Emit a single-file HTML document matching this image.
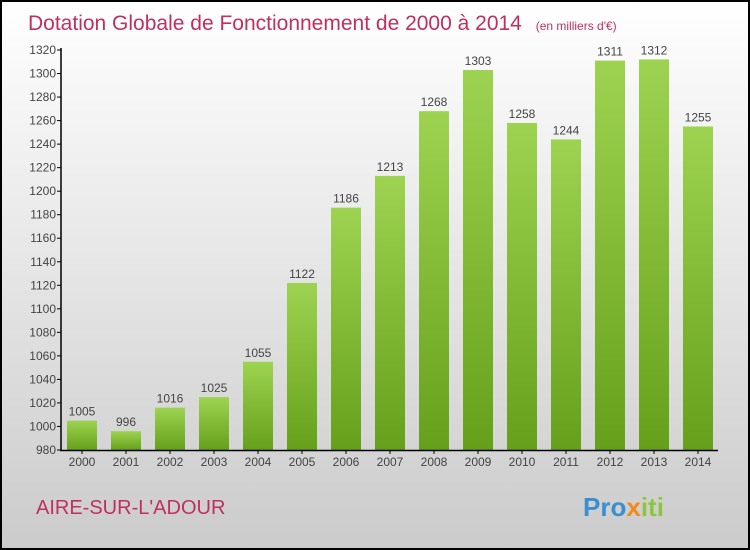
<!DOCTYPE html>
<html><head><meta charset="utf-8"><style>
body{margin:0}
svg{display:block;font-family:"Liberation Sans",sans-serif}
</style></head><body>
<svg id="c" width="750" height="550">
<defs>
<linearGradient id="bg" x1="0" y1="0" x2="0" y2="1"><stop offset="0" stop-color="#ffffff"/><stop offset="1" stop-color="#cbcbcb"/></linearGradient>
<linearGradient id="bar" x1="0" y1="0" x2="0" y2="1"><stop offset="0" stop-color="#9dd350"/><stop offset="1" stop-color="#66a01a"/></linearGradient>
</defs>
<rect x="1" y="1" width="748" height="548" fill="url(#bg)" stroke="#000" stroke-width="2"/>
<text x="28" y="30" font-size="21" fill="#c0305e">Dotation Globale de Fonctionnement de 2000 à 2014 <tspan font-size="12" dx="8">(en milliers d'€)</tspan></text>
<text x="36" y="514" font-size="20" fill="#c0305e">AIRE-SUR-L'ADOUR</text>
<text x="583" y="516" font-size="26" font-weight="bold" fill="#3a8fd0">Pro<tspan fill="#f08a1c">x</tspan><tspan fill="#8cc63f">iti</tspan></text>
<g id="g"></g>
</svg>
<script>
const years=["2000","2001","2002","2003","2004","2005","2006","2007","2008","2009","2010","2011","2012","2013","2014"];
const values=[1005,996,1016,1025,1055,1122,1186,1213,1268,1303,1258,1244,1311,1312,1255];
const yTicks=[980,1000,1020,1040,1060,1080,1100,1120,1140,1160,1180,1200,1220,1240,1260,1280,1300,1320];
const NS="http://www.w3.org/2000/svg",g=document.getElementById('g');
const y=v=>450-(v-980)*400/340, x=i=>82+i*44;
function mk(t,a,txt){const e=document.createElementNS(NS,t);for(const k in a)e.setAttribute(k,a[k]);if(txt!=null)e.textContent=txt;g.appendChild(e);return e;}
yTicks.forEach(v=>{
 const l=mk('line',{x1:57,x2:61,y1:y(v),y2:y(v),stroke:'#000'});
 
 
 const t=mk('text',{x:56,y:y(v)+4,'text-anchor':'end','font-size':12,fill:'#444'},v);
 
 
});
values.forEach((v,i)=>{
 const r=mk('rect',{x:x(i)-15,y:y(v),width:30,height:450-y(v),fill:'url(#bar)'});
 
 
 const t=mk('text',{x:x(i),y:y(v)-5,'text-anchor':'middle','font-size':12,fill:'#444'},v);
 
 
 const k=mk('line',{x1:x(i),x2:x(i),y1:450,y2:454,stroke:'#000'});
 
 
 const xl=mk('text',{x:x(i),y:466,'text-anchor':'middle','font-size':12,fill:'#444'},years[i]);
 
 
});
const ya=mk('line',{x1:61,x2:61,y1:48,y2:451,stroke:'#000','stroke-width':1.5});


const xa=mk('line',{x1:60,x2:718,y1:450.5,y2:450.5,stroke:'#000','stroke-width':1.5});


</script>
</body></html>
